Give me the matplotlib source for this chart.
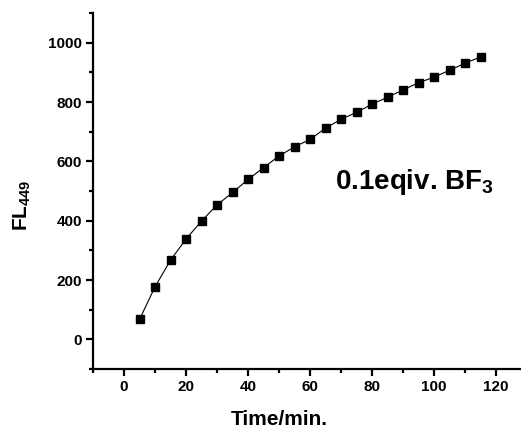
import matplotlib
matplotlib.use("Agg")
import matplotlib.pyplot as plt
from matplotlib.ticker import MultipleLocator

# Datos
time_min = [5, 10, 15, 20, 25, 30, 35, 40, 45, 50, 55, 60, 65, 70, 75, 80,
            85, 90, 95, 100, 105, 110, 115]
fl449 = [67, 177, 267, 338, 399, 453, 495, 539, 579, 618, 649, 674, 712,
         742, 765, 793, 816, 841, 865, 884, 907, 931, 952]

plt.rcParams['font.family'] = ['Liberation Sans', 'DejaVu Sans']
plt.rcParams['font.weight'] = 'bold'
plt.rcParams['mathtext.fontset'] = 'custom'
plt.rcParams['mathtext.bf'] = 'Liberation Sans:bold'
plt.rcParams['mathtext.rm'] = 'Liberation Sans:bold'
plt.rcParams['mathtext.default'] = 'bf'

fig = plt.figure(figsize=(5.21, 4.30), dpi=100)
ax = fig.add_axes([93 / 521, 61 / 430, 428 / 521, 356 / 430])

ax.plot(time_min, fl449, '-', color='black', lw=0.8,
        marker='s', markersize=5.5, markerfacecolor='black')

ax.set_xlim(-10, 128)
ax.set_ylim(-100, 1100)
ax.xaxis.set_major_locator(MultipleLocator(20))
ax.xaxis.set_minor_locator(MultipleLocator(10))
ax.yaxis.set_major_locator(MultipleLocator(200))
ax.yaxis.set_minor_locator(MultipleLocator(100))

for s in ['top', 'right']:
    ax.spines[s].set_visible(False)
for s in ['left', 'bottom']:
    ax.spines[s].set_linewidth(1.6)

ax.tick_params(which='major', direction='out', length=5, width=1.6,
               labelsize=11, pad=3)
ax.tick_params(which='minor', direction='out', length=3, width=1.6)
for lab in ax.get_xticklabels() + ax.get_yticklabels():
    lab.set_fontweight('bold')

ax.set_xlabel('Time/min.', fontsize=15, fontweight='bold')
ax.xaxis.set_label_coords(60 / 138, -0.115)
ax.set_ylabel('FL$_{449}$', fontsize=15, fontweight='bold')
ax.yaxis.set_label_coords(-0.14, 0.46)

ax.text(68, 507, '0.1eqiv. BF$_3$', fontsize=20, fontweight='bold',
        va='baseline', ha='left')

plt.savefig('out.png', dpi=100)
